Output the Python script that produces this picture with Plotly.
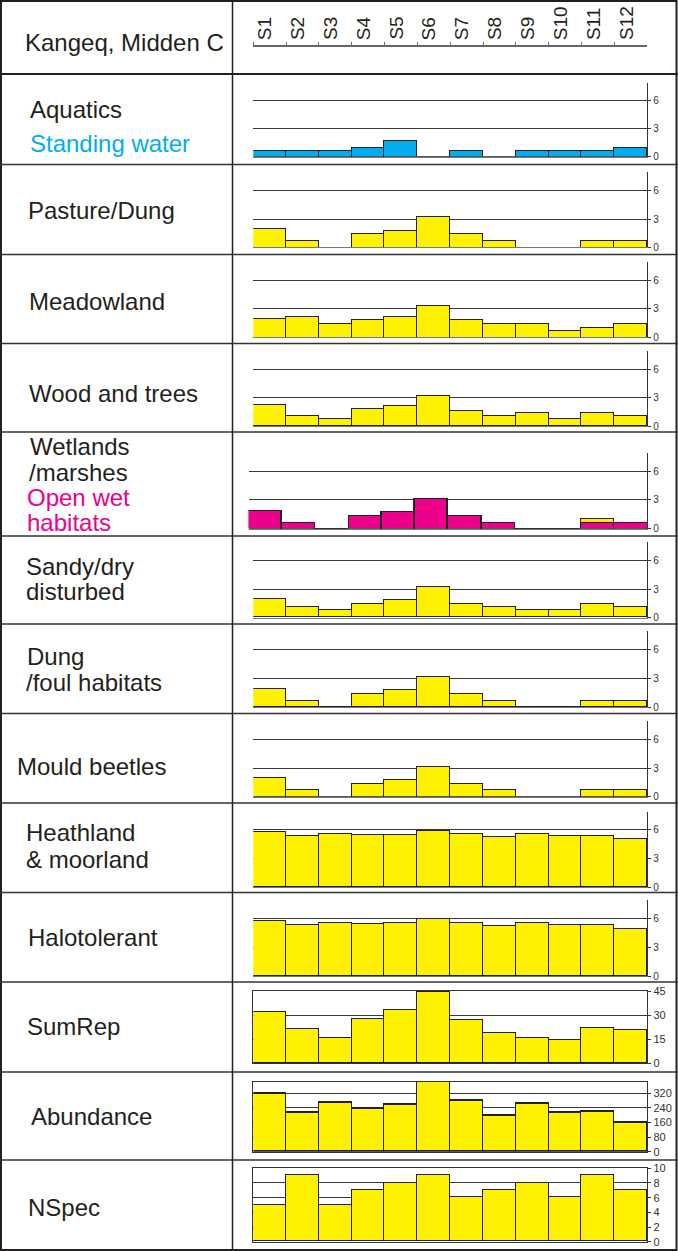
import plotly.graph_objects as go

W, H = 678, 1251

# ---------------- data ----------------
samples = ["S1", "S2", "S3", "S4", "S5", "S6", "S7", "S8", "S9", "S10", "S11", "S12"]

aquatics = [0.6, 0.6, 0.6, 1.0, 1.7, 0, 0.6, 0, 0.6, 0.6, 0.6, 1.0]
pasture_dung = [2.0, 0.65, 0, 1.4, 1.8, 3.2, 1.4, 0.65, 0, 0, 0.65, 0.65]
meadowland = [1.9, 2.2, 1.4, 1.8, 2.2, 3.35, 1.8, 1.4, 1.4, 0.65, 1.05, 1.4]
wood_trees = [2.2, 1.1, 0.7, 1.8, 2.1, 3.2, 1.6, 1.1, 1.4, 0.7, 1.4, 1.1]
wetlands_open = [1.9, 0.65, 0, 1.4, 1.8, 3.15, 1.4, 0.65, 0, 0, 0.65, 0.65]
wetlands_other = [0, 0, 0, 0, 0, 0, 0, 0, 0, 0, 0.4, 0]
sandy_dry = [1.95, 1.1, 0.75, 1.4, 1.8, 3.15, 1.4, 1.1, 0.75, 0.75, 1.4, 1.1]
dung_foul = [1.95, 0.7, 0, 1.4, 1.8, 3.2, 1.4, 0.7, 0, 0, 0.7, 0.7]
mould_beetles = [1.95, 0.7, 0, 1.4, 1.8, 3.15, 1.4, 0.7, 0, 0, 0.7, 0.7]
heathland = [5.7, 5.3, 5.5, 5.4, 5.45, 5.8, 5.55, 5.2, 5.5, 5.35, 5.3, 4.95]
halotolerant = [5.7, 5.3, 5.5, 5.4, 5.45, 5.85, 5.5, 5.15, 5.45, 5.3, 5.25, 4.9]
sumrep = [32, 21.5, 15.5, 27.5, 33, 44.5, 27, 19, 16, 14.5, 22, 20.5]
abundance = [320, 215, 270, 238, 256, 384, 278, 199, 261, 216, 219, 159]
nspec = [5, 9, 5, 7, 8, 9, 6, 7, 8, 6, 9, 7]

ticks_small = [0, 3, 6]
ticks_sumrep = [0, 15, 30, 45]
ticks_abund = [0, 80, 160, 240, 320]
ticks_nspec = [0, 2, 4, 6, 8, 10]

title_text = "Kangeq, Midden C"

# ---------------- styles ----------------
YELLOW = "#FFF200"
BLUE = "#00AEEF"
PINK = "#EC008C"
INK = "#231F20"
FONT = "Liberation Sans, Arial, sans-serif"

# panels: (series [(values, colour)], x0px, y0px, yref_px, ref_val, top_px, tickvals, framed, ticksize)
panels = [
    ([(aquatics, BLUE)], 253.3, 156.7, 100.7, 6, 82.7, ticks_small, False, 10),
    ([(pasture_dung, YELLOW)], 253.3, 247.3, 190.7, 6, 171.7, ticks_small, False, 10),
    ([(meadowland, YELLOW)], 253.3, 337.3, 280.0, 6, 261.7, ticks_small, False, 10),
    ([(wood_trees, YELLOW)], 253.3, 426.0, 369.0, 6, 351.0, ticks_small, False, 10),
    ([(wetlands_open, PINK), (wetlands_other, YELLOW)], 248.7, 528.7, 471.0, 6, 452.7, ticks_small, False, 10),
    ([(sandy_dry, YELLOW)], 253.3, 617.7, 560.7, 6, 542.3, ticks_small, False, 10),
    ([(dung_foul, YELLOW)], 253.3, 707.0, 649.3, 6, 630.7, ticks_small, False, 10),
    ([(mould_beetles, YELLOW)], 253.3, 796.7, 739.3, 6, 720.7, ticks_small, False, 10),
    ([(heathland, YELLOW)], 253.3, 887.0, 829.0, 6, 811.7, ticks_small, False, 10),
    ([(halotolerant, YELLOW)], 253.3, 976.0, 918.0, 6, 900.0, ticks_small, False, 10),
    ([(sumrep, YELLOW)], 253.3, 1063.3, 991.0, 45, 991.0, ticks_sumrep, True, 11),
    ([(abundance, YELLOW)], 253.3, 1151.7, 1093.3, 320, 1081.7, ticks_abund, True, 11),
    ([(nspec, YELLOW)], 253.3, 1241.7, 1168.3, 10, 1168.3, ticks_nspec, True, 11),
]
X1PX = 647.3

# left-column labels: (text, colour, x_px, y_px)
labels = [
    [("Aquatics", INK, 31, 110), ("Standing water", BLUE, 31, 144)],
    [("Pasture/Dung", INK, 28, 210)],
    [("Meadowland", INK, 29, 301)],
    [("Wood and trees", INK, 29, 393)],
    [("Wetlands", INK, 31, 447), ("/marshes", INK, 30, 473),
     ("Open wet", PINK, 28, 498), ("habitats", PINK, 28, 523)],
    [("Sandy/dry", INK, 27, 567), ("disturbed", INK, 27, 592)],
    [("Dung", INK, 28, 657), ("/foul habitats", INK, 27, 683)],
    [("Mould beetles", INK, 17, 766)],
    [("Heathland", INK, 27, 833), ("& moorland", INK, 27, 860)],
    [("Halotolerant", INK, 28, 937)],
    [("SumRep", INK, 27, 1026)],
    [("Abundance", INK, 31, 1116)],
    [("NSpec", INK, 28, 1207)],
]

row_lines = [164.5, 254.5, 343.5, 432, 536, 624, 713.5, 803, 892.5, 982, 1072, 1160]


def px_x(p):
    return p / W


def px_y(p):
    return 1 - p / H


fig = go.Figure()
layout = dict(
    template="none",
    width=W, height=H, margin=dict(l=0, r=0, t=0, b=0, pad=0, autoexpand=False),
    paper_bgcolor="white", plot_bgcolor="rgba(0,0,0,0)",
    barmode="stack", bargap=0, showlegend=False,
    font=dict(family=FONT, color=INK),
)

for i, (series, x0, y0, yref, refval, top, tv, framed, tsize) in enumerate(panels, start=1):
    ymax = refval * (y0 - top) / (y0 - yref)
    xa = "x" if i == 1 else f"x{i}"
    ya = "y" if i == 1 else f"y{i}"
    for vals, col in series:
        fig.add_trace(go.Bar(
            x=samples, y=vals, xaxis=xa, yaxis=ya, width=1,
            marker=dict(color=col, line=dict(color=INK, width=1.2)),
            hoverinfo="skip",
        ))
    kx = "xaxis" if i == 1 else f"xaxis{i}"
    ky = "yaxis" if i == 1 else f"yaxis{i}"
    layout[kx] = dict(
        domain=[px_x(x0), px_x(X1PX)], anchor=ya, type="category",
        range=[-0.5, 11.5], showticklabels=False, ticks="", showgrid=False,
        zeroline=False, showline=True, linecolor=("#333" if framed else "#777"),
        linewidth=1, mirror=framed, fixedrange=True, automargin=False,
    )
    layout[ky] = dict(
        domain=[px_y(y0), px_y(top)], anchor=xa, side="right",
        range=[0, ymax], tickvals=tv, ticks="outside", ticklen=3,
        tickcolor="#333", tickfont=dict(size=tsize, color="#333", family=FONT),
        showline=True, linecolor="#333", linewidth=1, mirror=framed,
        showgrid=True, gridcolor="#3a3a3a", gridwidth=1, zeroline=False,
        fixedrange=True, automargin=False,
    )

# header axis with sample categories
hi = len(panels) + 1
fig.add_trace(go.Scatter(
    x=samples, y=[0] * len(samples), xaxis=f"x{hi}", yaxis=f"y{hi}",
    mode="markers", marker=dict(opacity=0), hoverinfo="skip",
))
layout[f"xaxis{hi}"] = dict(
    domain=[px_x(253.3), px_x(X1PX)], anchor=f"y{hi}", type="category",
    side="top", range=[-0.5, 11.5], showticklabels=False,
    ticks="outside", tickson="boundaries", ticklen=3, tickcolor="#666",
    showline=True, linecolor="#666", linewidth=1.5, showgrid=False,
    zeroline=False, fixedrange=True, automargin=False,
)
layout[f"yaxis{hi}"] = dict(
    domain=[px_y(60), px_y(47)], anchor=f"x{hi}", visible=False,
    fixedrange=True, automargin=False,
)

annotations = []
for s in samples:
    annotations.append(dict(
        x=s, xref=f"x{hi}", y=px_y(42), yref="paper", text=s,
        showarrow=False, textangle=-90, xanchor="center", yanchor="bottom",
        xshift=-5, font=dict(size=19, color=INK, family=FONT),
    ))

annotations.append(dict(
    x=px_x(23), y=px_y(42), xref="paper", yref="paper", text=title_text,
    showarrow=False, xanchor="left", yanchor="middle",
    font=dict(size=24, color=INK, family=FONT),
))
for group in labels:
    multi = len(group) > 1
    for txt, col, xp, yp in group:
        ann = dict(
            x=px_x(xp - 2), y=px_y(yp), xref="paper", yref="paper", text=txt,
            showarrow=False, xanchor="left", yanchor="middle",
            font=dict(size=24, color=col, family=FONT),
        )
        if multi:
            ann.update(height=24, valign="bottom", borderpad=0, yshift=-1)
        annotations.append(ann)
layout["annotations"] = annotations

shapes = []
shapes.append(dict(type="rect", xref="paper", yref="paper",
                   x0=px_x(1), x1=px_x(676.5), y0=px_y(1), y1=px_y(1250),
                   line=dict(color=INK, width=2)))
shapes.append(dict(type="line", xref="paper", yref="paper",
                   x0=px_x(232.5), x1=px_x(232.5), y0=px_y(0), y1=px_y(1251),
                   line=dict(color=INK, width=1.5)))
shapes.append(dict(type="line", xref="paper", yref="paper",
                   x0=0, x1=1, y0=px_y(74), y1=px_y(74),
                   line=dict(color=INK, width=2)))
for yl in row_lines:
    shapes.append(dict(type="line", xref="paper", yref="paper",
                       x0=0, x1=1, y0=px_y(yl), y1=px_y(yl),
                       line=dict(color="#333", width=1.5)))
layout["shapes"] = shapes

fig.update_layout(**layout)
fig.write_html(
    "out.html",
    config={"displayModeBar": False},
    post_script="document.body.style.margin='0px';document.body.style.overflow='hidden';",
)
